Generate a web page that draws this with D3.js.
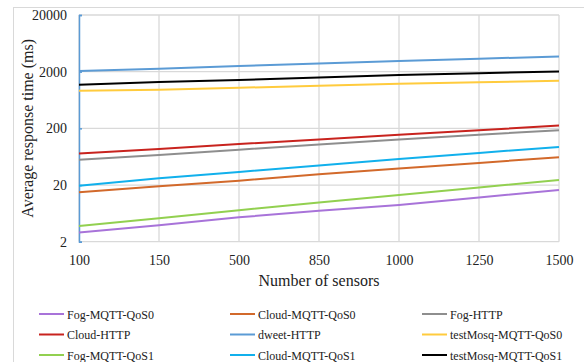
<!DOCTYPE html>
<html>
<head>
<meta charset="utf-8">
<script src="https://cdn.jsdelivr.net/npm/d3@7"></script>
<style>
  body { margin: 0; background: #fff; }
  text { font-family: "Liberation Serif", "DejaVu Serif", serif; fill: #222; }
</style>
</head>
<body>
<svg id="chart" width="584" height="362"></svg>
<script>
// categories (number of sensors)
var sensors = ["100", "150", "500", "850", "1000", "1250", "1500"];
var yTicks = [2, 20, 200, 2000, 20000];

// series names + values (ms)
var seriesNames = ["Fog-MQTT-QoS0", "Cloud-MQTT-QoS0", "Fog-HTTP",
  "Cloud-HTTP", "dweet-HTTP", "testMosq-MQTT-QoS0",
  "Fog-MQTT-QoS1", "Cloud-MQTT-QoS1", "testMosq-MQTT-QoS1"];
var fogMqttQos0 = [2.9, 3.9, 5.4, 7.0, 8.9, 12.1, 16.4];
var cloudMqttQos0 = [14.9, 19.0, 23.9, 31.0, 39.0, 49.1, 62.0];
var fogHttp = [56, 68, 84, 104, 127, 154, 186];
var cloudHttp = [72, 86, 106, 127, 154, 185, 224];
var dweetHttp = [2050, 2250, 2510, 2790, 3080, 3380, 3715];
var testMosqQos0 = [920, 957, 1040, 1127, 1222, 1300, 1381];
var fogMqttQos1 = [3.8, 5.2, 7.2, 9.8, 13.4, 18.1, 24.6];
var cloudMqttQos1 = [19.5, 26.4, 34.1, 44.0, 57.8, 73.8, 94.2];
var testMosqQos1 = [1174, 1310, 1420, 1580, 1740, 1875, 2015];

var colors = ["#A873D9", "#D2692B", "#8E8E8E", "#C8231E", "#5B9BD5",
  "#FFCB3D", "#92D050", "#11B0EC", "#000000"];

var allValues = [fogMqttQos0, cloudMqttQos0, fogHttp, cloudHttp, dweetHttp,
  testMosqQos0, fogMqttQos1, cloudMqttQos1, testMosqQos1];

var series = seriesNames.map(function(n, i) {
  return { name: n, color: colors[i], values: allValues[i] };
});

var svg = d3.select("#chart");

var plot = { left: 79, right: 559, top: 15, bottom: 241.7 };

// outer chart border
svg.append("rect")
  .attr("x", 13.5).attr("y", 7.5)
  .attr("width", 600).attr("height", 400)
  .attr("fill", "none").attr("stroke", "#d9d9d9");

var x = d3.scalePoint()
  .domain(sensors)
  .range([plot.left, plot.right]);

var y = d3.scaleLog()
  .domain([2, 20000])
  .range([plot.bottom, plot.top]);

// gridlines
svg.append("g")
  .selectAll("line.vg")
  .data(sensors)
  .enter()
  .append("line")
  .attr("x1", function(d) { return x(d); })
  .attr("x2", function(d) { return x(d); })
  .attr("y1", plot.top)
  .attr("y2", plot.bottom)
  .attr("stroke", "#d9d9d9")
  .attr("stroke-width", 1.3);

svg.append("g")
  .selectAll("line.hg")
  .data(yTicks)
  .enter()
  .append("line")
  .attr("x1", plot.left)
  .attr("x2", plot.right)
  .attr("y1", function(d) { return y(d); })
  .attr("y2", function(d) { return y(d); })
  .attr("stroke", "#d9d9d9")
  .attr("stroke-width", 1.3);

// y axis (blue line with inner ticks)
var yAxis = d3.axisRight(y)
  .tickValues(yTicks)
  .tickSize(3)
  .tickFormat("");
var gy = svg.append("g")
  .attr("transform", `translate(${plot.left},0)`)
  .call(yAxis);
gy.select(".domain").attr("stroke", "#5B9BD5").attr("stroke-width", 1.5);
gy.selectAll(".tick line").attr("stroke", "#5B9BD5").attr("stroke-width", 1.5);

svg.append("g")
  .selectAll("text.ylab")
  .data(yTicks)
  .enter()
  .append("text")
  .attr("x", 67)
  .attr("y", function(d) { return y(d) + 5; })
  .style("text-anchor", "end")
  .style("font-size", "14px")
  .text(function(d) { return d; });

// x labels
var xAxis = d3.axisBottom(x).tickSize(0).tickPadding(13);
var gx = svg.append("g")
  .attr("transform", `translate(0,${plot.bottom})`)
  .call(xAxis);
gx.select(".domain").remove();
gx.selectAll("text")
  .style("font-size", "14px")
  .style("font-family", "Liberation Serif, serif")
  .attr("fill", "#222");

// lines
var line = d3.line()
  .x(function(d, i) { return x(sensors[i]); })
  .y(function(d) { return y(d); });

svg.append("g")
  .selectAll("path.series")
  .data(series)
  .enter()
  .append("path")
  .attr("class", "series")
  .attr("d", function(d) { return line(d.values); })
  .attr("fill", "none")
  .attr("stroke", function(d) { return d.color; })
  .attr("stroke-width", 2);

// axis titles
svg.append("text")
  .attr("x", (plot.left + plot.right) / 2)
  .attr("y", 286)
  .style("text-anchor", "middle")
  .style("font-size", "16px")
  .text("Number of sensors");

svg.append("text")
  .attr("transform", "rotate(-90)")
  .attr("x", -(plot.top + plot.bottom) / 2)
  .attr("y", 33)
  .style("text-anchor", "middle")
  .style("font-size", "16px")
  .text("Average response time (ms)");

// legend
var legendCols = [39, 230, 422];
var legendRows = [314, 334.5, 355];
var legend = svg.append("g")
  .selectAll("g.leg")
  .data(series)
  .enter()
  .append("g")
  .attr("transform", function(d, i) {
    return `translate(${legendCols[i % 3]},${legendRows[Math.floor(i / 3)]})`;
  });
legend.append("line")
  .attr("x1", 0).attr("x2", 25)
  .attr("y1", 0).attr("y2", 0)
  .attr("stroke", function(d) { return d.color; })
  .attr("stroke-width", 2);
legend.append("text")
  .attr("x", 28)
  .attr("y", 4.5)
  .style("font-size", "12px")
  .text(function(d) { return d.name; });
</script>
</body>
</html>
